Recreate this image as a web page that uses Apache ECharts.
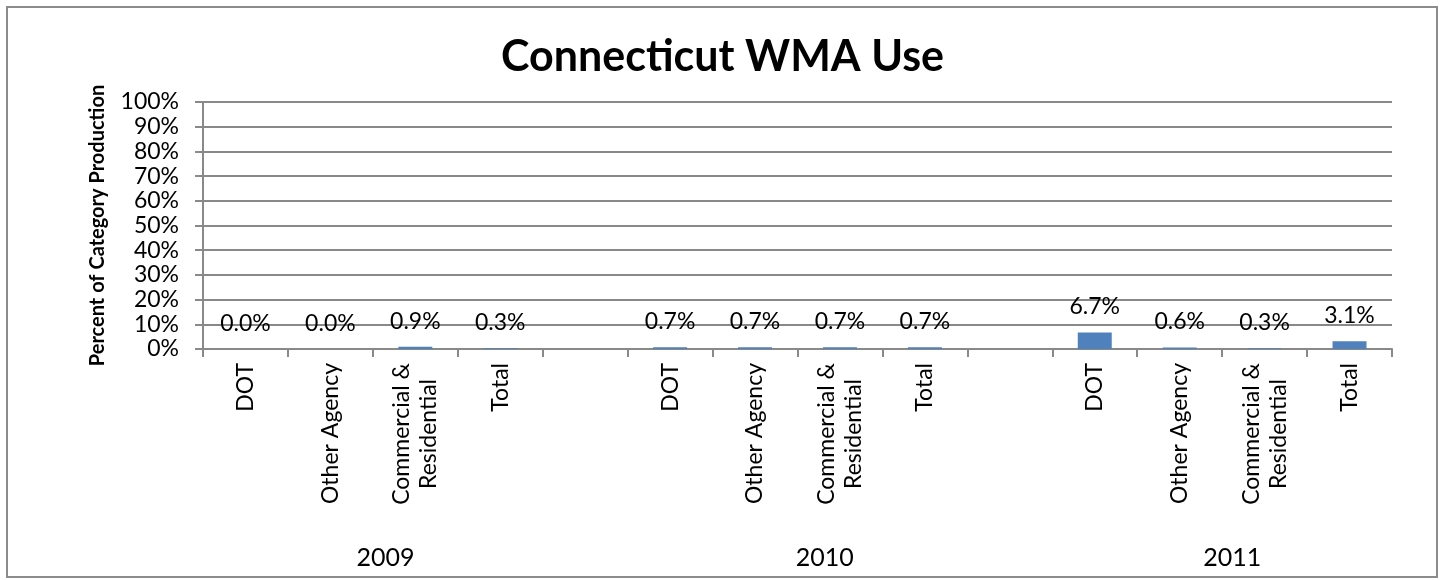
<!DOCTYPE html>
<html>
<head>
<meta charset="utf-8">
<script src="https://cdn.jsdelivr.net/npm/echarts@6/dist/echarts.min.js"></script>
<style>
  html, body { margin: 0; padding: 0; background: #fff; }
  #chart { width: 1445px; height: 580px; }
</style>
</head>
<body>
<div id="chart"></div>
<script>
// ---- data ----
const categories = [
  'DOT', 'Other Agency', 'Commercial &\nResidential', 'Total', '',
  'DOT', 'Other Agency', 'Commercial &\nResidential', 'Total', '',
  'DOT', 'Other Agency', 'Commercial &\nResidential', 'Total'
];
const values = [
  0.000, 0.000, 0.009, 0.003, null,
  0.007, 0.007, 0.007, 0.007, null,
  0.067, 0.006, 0.003, 0.031
];
const years = ['2009', '2010', '2011'];
const yTicks = [0, 0.1, 0.2, 0.3, 0.4, 0.5, 0.6, 0.7, 0.8, 0.9, 1.0];

// ---- layout (positions of the year group labels, in category units) ----
const yearLabelAt = [2.15, 7.32, 12.12];

const FONT = 'Lato, "Noto Sans", sans-serif';
const GRAY = '#898989';
const CAT_FS = 23;

// measure widest line so multi-line category labels can be centre-aligned
const mctx = document.createElement('canvas').getContext('2d');
mctx.font = CAT_FS + 'px Lato';
function lineW(s) { return Math.ceil(mctx.measureText(s).width); }

const chart = echarts.init(document.getElementById('chart'), null, { renderer: 'canvas' });

chart.setOption({
  backgroundColor: '#ffffff',
  animation: false,
  title: {
    text: 'Connecticut WMA Use',
    left: 'center',
    top: 31,
    textStyle: { fontFamily: FONT, fontSize: 43, fontWeight: 'bold', color: '#000' }
  },
  graphic: [{
    type: 'rect',
    shape: { x: 7, y: 7, width: 1430, height: 570 },
    style: { fill: 'none', stroke: '#8c8c8c', lineWidth: 2 },
    silent: true, z: -1
  }],
  grid: { left: 203, right: 53, top: 102, bottom: 231, containLabel: false },
  xAxis: [{
    type: 'category',
    data: categories,
    position: 'bottom',
    axisLine: { show: true, lineStyle: { color: GRAY, width: 2 } },
    axisTick: { show: true, length: 8, lineStyle: { color: GRAY, width: 2 } },
    axisLabel: {
      interval: 0, rotate: 90, margin: 14,
      fontFamily: FONT, fontSize: CAT_FS, color: '#000', lineHeight: 27,
      formatter: function (v) {
        const lines = v.split('\n');
        if (lines.length < 2) return v;
        const w = Math.max.apply(null, lines.map(lineW));
        return lines.map(l => '{c' + w + '|' + l + '}').join('\n');
      },
      rich: (function () {
        const r = {};
        categories.forEach(v => {
          const lines = v.split('\n');
          if (lines.length < 2) return;
          const w = Math.max.apply(null, lines.map(lineW));
          r['c' + w] = { width: w, align: 'center', fontFamily: FONT, fontSize: CAT_FS, lineHeight: 27, color: '#000' };
        });
        return r;
      })()
    },
    splitLine: { show: false }
  }, {
    type: 'value',
    min: 0, max: 14,
    position: 'bottom',
    axisLine: { show: false },
    axisTick: { show: false },
    splitLine: { show: false },
    axisLabel: {
      customValues: yearLabelAt,
      margin: 196,
      fontFamily: FONT, fontSize: 25, color: '#000',
      formatter: function (v) {
        const i = yearLabelAt.findIndex(p => Math.abs(p - v) < 1e-6);
        return i >= 0 ? years[i] : '';
      }
    }
  }],
  yAxis: {
    type: 'value',
    min: 0, max: 1, interval: 0.1,
    name: 'Percent of Category Production',
    nameLocation: 'middle',
    nameRotate: 90,
    nameGap: 95,
    nameTextStyle: { fontFamily: FONT, fontSize: 20, fontWeight: 'bold', color: '#000' },
    axisLine: { show: true, lineStyle: { color: GRAY, width: 2 } },
    axisTick: { show: true, length: 8, lineStyle: { color: GRAY, width: 2 } },
    axisLabel: {
      margin: 24,
      fontFamily: FONT, fontSize: 23, color: '#000',
      customValues: yTicks,
      formatter: v => Math.round(v * 100) + '%'
    },
    splitLine: { show: true, lineStyle: { color: GRAY, width: 2 } }
  },
  series: [{
    type: 'bar',
    xAxisIndex: 0,
    data: values,
    barWidth: '40%',
    itemStyle: { color: '#4F81BD' },
    label: {
      show: true,
      position: 'top',
      distance: 14,
      fontFamily: FONT, fontSize: 23, color: '#000',
      formatter: p => (p.value == null ? '' : (p.value * 100).toFixed(1) + '%')
    }
  }]
});
</script>
</body>
</html>
